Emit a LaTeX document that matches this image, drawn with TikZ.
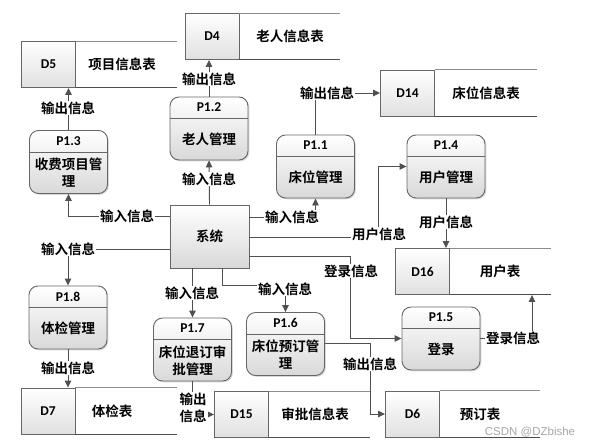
\documentclass[tikz,border=0pt]{standalone}
\usepackage{fontspec}
\newfontfamily\cjk{Noto Sans CJK SC}[BoldFont={* Bold}]
\newfontfamily\lat{Carlito}
\newfontfamily\wmfont{Liberation Sans}
\usetikzlibrary{arrows.meta,shadows,calc}
\definecolor{ln}{HTML}{505050}
\definecolor{bd}{HTML}{666666}
\newcommand\myproc[5]{%
  \node[proc] (#1) at (#2,#3) {};
  \draw[sepl] ([yshift=-22pt]#1.north west) -- ([yshift=-22pt]#1.north east);
  \node[ptitle] (#1t) at ([yshift=-11pt]#1.north) {#4};
  \node[ptext] (#1b) at ([yshift=-11pt]#1.center) {#5};
}
\newcommand\mystore[7]{%
  \node[idbox] (#1) at (#2,#3) {#5};
  \draw[topline] (#1.north east) -- (#1.north east -| #4,0);
  \draw[botline] (#1.south east) -- (#1.south east -| #4,0);
  \node[ptext] (#1t) at (#1.center -| #7,0) {#6};
}
\begin{document}
\begin{tikzpicture}[x=1pt,y=-1pt,
  proc/.style={draw=bd, line width=0.9pt, rounded corners=9pt, minimum width=78pt, minimum height=63pt,
    top color=white, bottom color=black!15, inner sep=0pt,
    drop shadow={shadow xshift=1.3pt, shadow yshift=-1.3pt, fill=black!30}},
  sysbox/.style={draw=bd, line width=0.9pt, minimum width=79pt, minimum height=63pt,
    top color=white, bottom color=black!15, inner sep=0pt,
    drop shadow={shadow xshift=1.3pt, shadow yshift=-1.3pt, fill=black!30},
    font=\cjk\bfseries\fontsize{13.5}{16}\selectfont},
  idbox/.style={draw=bd, line width=0.9pt, minimum width=54pt, minimum height=46pt,
    top color=white, bottom color=black!12, inner sep=0pt,
    font=\lat\bfseries\fontsize{13.5}{16}\selectfont},
  topline/.style={draw=black!45, line width=1pt},
  botline/.style={draw=black!70, line width=1pt},
  sepl/.style={draw=bd, line width=0.9pt},
  arr/.style={draw=ln, line width=0.9pt, -{Triangle[length=7pt,width=6.5pt]}},
  ptitle/.style={font=\lat\bfseries\fontsize{13.5}{16}\selectfont, inner sep=0pt},
  ptext/.style={font=\cjk\bfseries\fontsize{13.5}{17}\selectfont, align=center, inner sep=0pt},
  lbl/.style={font=\cjk\bfseries\fontsize{13.5}{17}\selectfont, fill=white, inner sep=1pt, align=center}
]
\useasboundingbox (0,0) rectangle (593,447);

% data stores
\mystore{d5}{48.5}{64.5}{177}{D5}{项目信息表}{122}
\mystore{d4}{212}{36.5}{340}{D4}{老人信息表}{290}
\mystore{d14}{407.5}{93}{537}{D14}{床位信息表}{486}
\mystore{d16}{422.5}{271.5}{551}{D16}{用户表}{500}
\mystore{d7}{48}{411}{177}{D7}{体检表}{112}
\mystore{d15}{241.5}{414.5}{370}{D15}{审批信息表}{315}
\mystore{d6}{412.5}{414}{540}{D6}{预订表}{480}

% processes
\myproc{p13}{68.5}{162}{P1.3}{收费项目管\\理}
\myproc{p12}{209}{128.5}{P1.2}{老人管理}
\myproc{p11}{315.5}{166.5}{P1.1}{床位管理}
\myproc{p14}{446}{166.5}{P1.4}{用户管理}
\myproc{p18}{68}{317.5}{P1.8}{体检管理}
\myproc{p17}{192.5}{349.5}{P1.7}{床位退订审\\批管理}
\myproc{p16}{285.5}{344}{P1.6}{床位预订管\\理}
\myproc{p15}{441}{338.5}{P1.5}{登录}

\node[sysbox] (sys) at (209.5,236.5) {系统};

% connector corners
\coordinate (c7) at (378,237);
\coordinate (c9) at (350,256);
\coordinate (c14) at (222,285);
\coordinate (c16) at (370,343);

% connectors
\draw[arr] (sys.north) -- (p12.south);
\draw[arr] (p12.north) -- (p12.north |- d4.south);
\draw[arr] (sys.west |- 0,216) -| (p13.south);
\draw[arr] (p13.north) -- (p13.north |- d5.south);
\draw[arr] (sys.east |- 0,217) -| (p11.south);
\draw[arr] (p11.north) |- (d14.west);
\draw[arr] (sys.east |- c7) -- (c7) |- (p14.west);
\draw[arr] (p14.south) -- (p14.south |- d16.north);
\draw[arr] (sys.east |- c9) -- (c9) |- (p15.west);
\draw[arr] (p15.east) -| (d16.south -| 532,0);
\draw[arr] (sys.west |- 0,249) -| (p18.north);
\draw[arr] (p18.south) -- (p18.south |- d7.north);
\draw[arr] (sys.south -| 192.5,0) -- (p17.north);
\draw[arr] (sys.south -| c14) -- (c14) -| (p16.north);
\draw[arr] (p17.south) |- (d15.west);
\draw[arr] (p16.east |- c16) -- (c16) |- (d6.west);

% labels
\node[lbl] (l1) at (209,179) {输入信息};
\node[lbl] (l2) at (209,79) {输出信息};
\node[lbl] (l3) at (127,216) {输入信息};
\node[lbl] (l4) at (68,108) {输出信息};
\node[lbl] (l5) at (292,217) {输入信息};
\node[lbl] (l6) at (327,93) {输出信息};
\node[lbl] (l7) at (379,234) {用户信息};
\node[lbl] (l8) at (446,222) {用户信息};
\node[lbl] (l9) at (351,271) {登录信息};
\node[lbl] (l10) at (513,338) {登录信息};
\node[lbl] (l11) at (68,249) {输入信息};
\node[lbl] (l12) at (68,368) {输出信息};
\node[lbl] (l13) at (192,293) {输入信息};
\node[lbl] (l14) at (285,289) {输入信息};
\node[lbl] (l15) at (193,408) {输出\\信息};
\node[lbl] (l16) at (370,364) {输出信息};

\node[font=\wmfont\fontsize{11.5}{13}\selectfont, text=black!35, inner sep=0pt] (wm) at (530,432) {CSDN @DZbishe};
\end{tikzpicture}
\end{document}
